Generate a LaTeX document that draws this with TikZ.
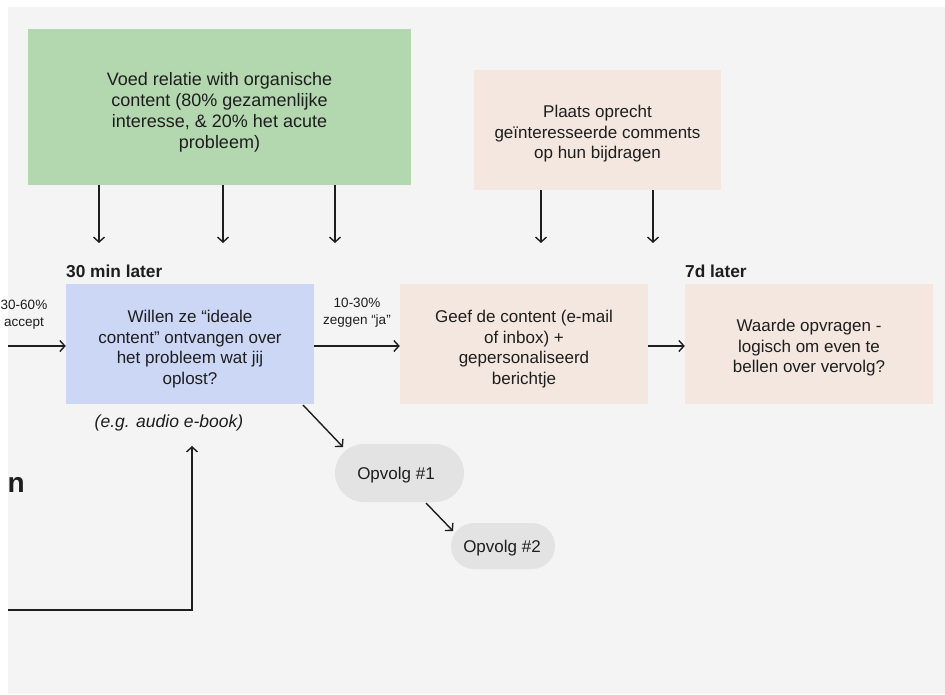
\documentclass[tikz,border=0pt]{standalone}
\usepackage{fontspec}
\setmainfont{Liberation Sans}
\usetikzlibrary{arrows.meta,calc}
\definecolor{bgc}{HTML}{F4F4F4}
\definecolor{greenc}{HTML}{B3D7AE}
\definecolor{peachc}{HTML}{F3E7DF}
\definecolor{bluec}{HTML}{CCD7F6}
\definecolor{pillc}{HTML}{E3E3E3}
\definecolor{ink}{HTML}{1E1E1E}
\begin{document}
\begin{tikzpicture}[x=1pt,y=-1pt,
  box/.style={rectangle, inner sep=0pt},
  boxtext/.style={inner sep=0pt, align=center, text=ink,
    font=\fontsize{17}{20.5}\selectfont},
  pill/.style={rectangle, inner sep=0pt, fill=pillc, text=ink,
    font=\fontsize{17}{20.5}\selectfont},
  lbl/.style={inner sep=0pt, align=center, text=ink, font=\fontsize{13.5}{17}\selectfont},
  head/.style={inner sep=0pt, text=ink, font=\fontsize{17.3}{20}\selectfont\bfseries},
  arr/.style={draw=ink, line width=1.4pt,
    -{Straight Barb[length=5pt,width=11pt,line width=1.4pt]}}]
\useasboundingbox (0,0) rectangle (945,694);
\fill[white] (0,0) rectangle (945,694);
\fill[bgc] (8,7) rectangle (945,694);
\begin{scope}
\clip (0,0) rectangle (945,694);
% boxes
\node[box, fill=greenc, minimum width=383pt, minimum height=156pt] (green) at (219.5,107) {};
\node[boxtext, font=\fontsize{18}{21}\selectfont] (greentxt) at (219.5,112)
  {Voed relatie with organische\\content (80\% gezamenlijke\\interesse, \& 20\% het acute\\probleem)};
\node[box, fill=peachc, minimum width=247pt, minimum height=120pt] (peachtop) at (597.5,130) {};
\node[boxtext] (peachtoptxt) at (597.5,134)
  {Plaats oprecht\\geïnteresseerde comments\\op hun bijdragen};
\node[box, fill=bluec, minimum width=248pt, minimum height=120pt] (blue) at (190,344) {};
\node[boxtext] (bluetxt) at (190,349)
  {Willen ze “ideale\\content” ontvangen over\\het probleem wat jij\\oplost?};
\node[box, fill=peachc, minimum width=248pt, minimum height=120pt] (mid) at (524,344) {};
\node[boxtext] (midtxt) at (524,349)
  {Geef de content (e-mail\\of inbox) +\\gepersonaliseerd\\berichtje};
\node[box, fill=peachc, minimum width=248pt, minimum height=120pt] (right) at (809,344) {};
\node[boxtext] (righttxt) at (809,348)
  {Waarde opvragen -\\logisch om even te\\bellen over vervolg?};
\node[pill, minimum width=129pt, minimum height=58pt, rounded corners=29pt] (op1) at (399.5,473) {};
\node[boxtext] (op1txt) at (396,475) {Opvolg \#1};
\node[pill, minimum width=104pt, minimum height=46pt, rounded corners=23pt] (op2) at (503,546) {};
\node[boxtext] (op2txt) at (502,548) {Opvolg \#2};
% headings and labels
\node[head, anchor=base west] (h30) at (66,277) {30 min later};
\node[head, anchor=base west] (h7d) at (685,277) {7d later};
\node[inner sep=0pt, text=ink, anchor=base, font=\fontsize{17.5}{20}\selectfont\itshape] (eg) at (169,427) {(e.g. audio e-book)};
\node[lbl] (l1030) at (357,313) {10-30\%\\zeggen “ja”};
\node[lbl] (l3060) at (24,315) {30-60\%\\accept};
\node[inner sep=0pt, text=ink, anchor=base east, font=\fontsize{28}{30}\selectfont\bfseries] (nn) at (25,492) {n};
% arrow end coordinates
\coordinate (t1) at (99,243);
\coordinate (t2) at (223,243);
\coordinate (t3) at (335,243);
\coordinate (t4) at (541,243);
\coordinate (t5) at (653,243);
\coordinate (lin) at (8,346);
\coordinate (d1s) at (303,405);
\coordinate (d1e) at (343,447);
\coordinate (d2s) at (426,503);
\coordinate (d2e) at (453,531);
\coordinate (loop) at (8,610);
\coordinate (loopend) at (192,446);
% connectors
\draw[arr] (t1 |- green.south) -- (t1);
\draw[arr] (t2 |- green.south) -- (t2);
\draw[arr] (t3 |- green.south) -- (t3);
\draw[arr] (t4 |- peachtop.south) -- (t4);
\draw[arr] (t5 |- peachtop.south) -- (t5);
\draw[arr] (lin) -- (blue.west |- lin);
\draw[arr] (blue.east |- lin) -- (mid.west |- lin);
\draw[arr] (mid.east |- lin) -- (right.west |- lin);
\draw[arr] (d1s) -- (d1e);
\draw[arr] (d2s) -- (d2e);
\draw[arr] (loop) -| (loopend);
\end{scope}
\end{tikzpicture}
\end{document}
